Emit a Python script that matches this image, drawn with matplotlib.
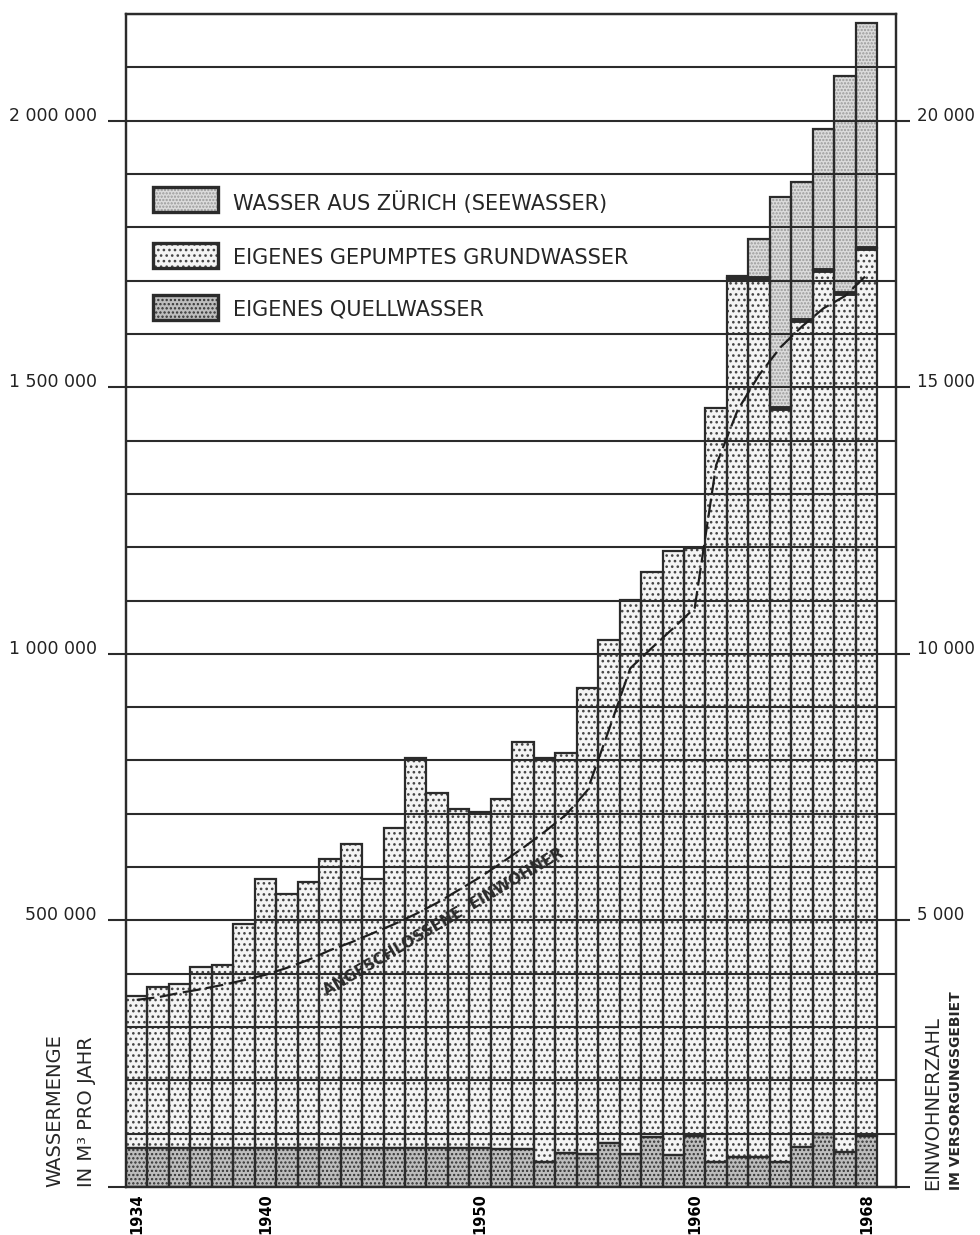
import matplotlib.pyplot as plt
from matplotlib.patches import Rectangle
from matplotlib.ticker import MultipleLocator
import numpy as np

# Wasserbezug pro Jahr in m3
jahre = [1934, 1935, 1936, 1937, 1938, 1939, 1940, 1941, 1942, 1943, 1944, 1945,
         1946, 1947, 1948, 1949, 1950, 1951, 1952, 1953, 1954, 1955, 1956, 1957,
         1958, 1959, 1960, 1961, 1962, 1963, 1964, 1965, 1966, 1967, 1968]
quellwasser = [74000, 74000, 74000, 74000, 74000, 74000, 74000, 74000, 74000,
               74000, 74000, 74000, 74000, 74000, 74000, 74000, 74000, 72000,
               72000, 47000, 63000, 62000, 82000, 62000, 94000, 60000, 96000,
               47000, 56000, 56000, 47000, 75000, 99000, 66000, 96000]
grundwasser = [284000, 301000, 306000, 339000, 342000, 419000, 503000, 475000,
               498000, 541000, 569000, 503000, 599000, 730000, 665000, 635000,
               629000, 656000, 763000, 757000, 751000, 874000, 944000, 1039000,
               1060000, 1133000, 1102000, 1414000, 1648000, 1648000, 1414000,
               1551000, 1621000, 1610000, 1665000]
seewasser = [0, 0, 0, 0, 0, 0, 0, 0, 0, 0, 0, 0, 0, 0, 0, 0, 0, 0, 0, 0, 0, 0,
             0, 0, 0, 0, 0, 0, 5000, 74000, 396000, 259000, 264000, 407000, 422000]
einwohner = [3510, 3560, 3640, 3710, 3790, 3880, 3980, 4110, 4260, 4440, 4590,
             4760, 4930, 5120, 5330, 5570, 5810, 6080, 6360, 6660, 6980, 7440,
             8570, 9730, 10110, 10480, 10860, 13540, 14570, 15230, 15750, 16140,
             16480, 16710, 17100]

links_ticks = [0, 500000, 1000000, 1500000, 2000000]
links_labels = ['', '500 000', '1 000 000', '1 500 000', '2 000 000']
rechts_ticks = [0, 5000, 10000, 15000, 20000]
rechts_labels = ['', '5 000', '10 000', '15 000', '20 000']
jahr_ticks = [1934, 1940, 1950, 1960, 1968]

tinte = '#2b2b2b'
plt.rcParams['hatch.linewidth'] = 1.1

x = np.array(jahre)
q = np.array(quellwasser)
g = np.array(grundwasser)
s = np.array(seewasser)

fig = plt.figure(figsize=(9.8, 12.35), dpi=100)
ax = fig.add_axes([126 / 980, 48 / 1235, 770 / 980, 1173 / 1235])

# Flaechen mit Raster
ax.bar(x, q, width=1.0, color='#bdbdbd', edgecolor='#333333', hatch='....', linewidth=0, zorder=1)
ax.bar(x, g, bottom=q, width=1.0, color='#f4f4f4', edgecolor='#444444', hatch='...', linewidth=0, zorder=1)
ax.bar(x, s, bottom=q + g, width=1.0, color='#dcdcdc', edgecolor='#999999', hatch='.....', linewidth=0, zorder=1)

# Umrisse
ax.bar(x, q, width=1.0, fill=False, edgecolor=tinte, linewidth=1.6, zorder=2)
ax.bar(x, g, bottom=q, width=1.0, fill=False, edgecolor=tinte, linewidth=1.6, zorder=2)
mit_see = s > 0
ax.bar(x[mit_see], s[mit_see], bottom=(q + g)[mit_see], width=1.0, fill=False,
       edgecolor=tinte, linewidth=1.6, zorder=2)
ax.hlines((q + g)[mit_see], x[mit_see] - 0.5, x[mit_see] + 0.5, color=tinte, linewidth=3.5, zorder=2)

ax.set_xlim(1933.5, 1969.38)
ax.set_ylim(0, 2200000)
ax.yaxis.set_minor_locator(MultipleLocator(100000))
ax.set_axisbelow('line')
ax.grid(axis='y', which='both', color=tinte, linewidth=1.5)
ax.grid(axis='x', visible=False)

ax.set_yticks(links_ticks, links_labels)
ax.tick_params(axis='y', which='major', length=13, width=1.5, color=tinte, pad=8,
               labelsize=12.5, labelcolor='#222222')
ax.tick_params(axis='y', which='minor', length=0)
for lab in ax.get_yticklabels():
    lab.set_va('baseline')

ax.set_xticks(jahr_ticks, [str(j) for j in jahr_ticks])
ax.tick_params(axis='x', length=0, pad=4.5, labelsize=10.5, labelrotation=90)
for lab in ax.get_xticklabels():
    lab.set_fontweight('bold')

for sp in ax.spines.values():
    sp.set_color(tinte)
    sp.set_linewidth(1.6)

# Einwohner auf der rechten Achse
ax2 = ax.twinx()
ax2.set_ylim(0, 22000)
ax2.plot(x, einwohner, color='#1e1e1e', linewidth=1.6, linestyle=(0, (8, 2.5)), zorder=3)
ax2.set_yticks(rechts_ticks, rechts_labels)
ax2.tick_params(axis='y', length=10, width=1.5, color=tinte, pad=5, labelsize=12,
                labelcolor='#222222')
for lab in ax2.get_yticklabels():
    lab.set_va('baseline')
for sp in ax2.spines.values():
    sp.set_color(tinte)
    sp.set_linewidth(1.6)

ax.text(1948.3, 496000, 'ANGESCHLOSSENE  EINWOHNER', rotation=30.5, rotation_mode='anchor',
        ha='center', va='center', fontsize=11, fontweight='bold', color='#2a2a2a', zorder=4)

# Legende
legende = [
    ('WASSER AUS ZÜRICH (SEEWASSER)', '#dcdcdc', '#999999', '.....', 212, 210),
    ('EIGENES GEPUMPTES GRUNDWASSER', '#f4f4f4', '#444444', '...', 268, 264),
    ('EIGENES QUELLWASSER', '#bdbdbd', '#333333', '....', 320, 316),
]
for text, fc, hc, muster, unten, basis in legende:
    yb = (1187 - unten) / 1173
    ax.add_patch(Rectangle((27 / 770, yb), 65 / 770, 25 / 1173, transform=ax.transAxes,
                           facecolor=fc, edgecolor=hc, hatch=muster, linewidth=0, zorder=5))
    ax.add_patch(Rectangle((27 / 770, yb), 65 / 770, 25 / 1173, transform=ax.transAxes,
                           fill=False, edgecolor=tinte, linewidth=2.4, zorder=6))
    ax.text(107 / 770, (1187 - basis) / 1173, text, transform=ax.transAxes, fontsize=15,
            va='baseline', ha='left', color='#262626', zorder=6)

# Achsentitel
fig.text(55 / 980, 48 / 1235, 'WASSERMENGE', rotation=90, ha='center', va='bottom',
         fontsize=14, color='#262626')
fig.text(86 / 980, 48 / 1235, 'IN M³ PRO JAHR', rotation=90, ha='center', va='bottom',
         fontsize=14, color='#262626')
fig.text(933 / 980, 45 / 1235, 'EINWOHNERZAHL', rotation=90, ha='center', va='bottom',
         fontsize=14, color='#262626')
fig.text(956 / 980, 45 / 1235, 'IM VERSORGUNGSGEBIET', rotation=90, ha='center', va='bottom',
         fontsize=10, fontweight='bold', color='#262626')

fig.savefig('out.png', dpi=100, facecolor='white')
